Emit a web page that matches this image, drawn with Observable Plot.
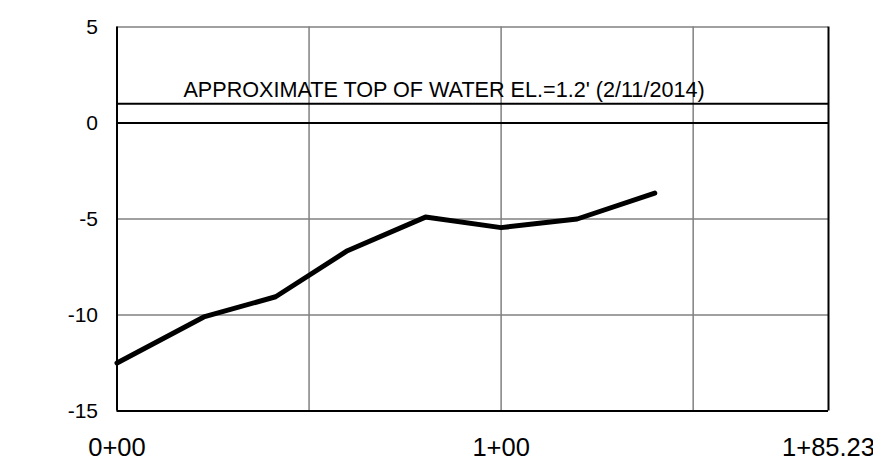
<!DOCTYPE html>
<html><head><meta charset="utf-8">
<script src="https://cdn.jsdelivr.net/npm/d3@7"></script>
<script src="https://cdn.jsdelivr.net/npm/@observablehq/plot@0.6"></script>
<style>body{margin:0;background:#fff;}</style>
</head><body><div id="chart"></div>
<script>
const stations = [0, 22.6, 41.3, 60, 80.3, 100, 119.8, 140];
const elevations = [-12.5, -10.1, -9.05, -6.65, -4.9, -5.45, -5.0, -3.65];
const xTickValues = [0, 100, 185.23];
const xTickLabels = ["0+00", "1+00", "1+85.23"];
const yTickValues = [-15, -10, -5, 0, 5];
const xGrid = [50, 100, 150];
const yGrid = [-10, -5, 5];
const blackRulesY = [-15, 0];
const blackRulesX = [0, 185.23];
const waterLevel = [1.0];
const waterLabel = ["APPROXIMATE TOP OF WATER EL.=1.2' (2/11/2014)"];

const profile = stations.map((s, i) => ({station: s, elev: elevations[i]}));
const xLabelMap = new Map(xTickValues.map((v, i) => [v, xTickLabels[i]]));

const chart = Plot.plot({
  width: 873,
  height: 456,
  marginLeft: 116.5,
  marginRight: 45,
  marginTop: 26.5,
  marginBottom: 45.5,
  style: {fontFamily: "'Liberation Sans', Arial, sans-serif", color: "black", background: "white", overflow: "visible"},
  x: {domain: [0, 185.23]},
  y: {domain: [-15, 5]},
  marks: [
    Plot.ruleX(xGrid, {stroke: "#808080", strokeWidth: 1.5}),
    Plot.ruleY(yGrid, {stroke: "#808080", strokeWidth: 1.5}),
    Plot.ruleY(blackRulesY, {stroke: "black", strokeWidth: 2}),
    Plot.ruleY(waterLevel, {stroke: "black", strokeWidth: 2}),
    Plot.ruleX(blackRulesX, {stroke: "black", strokeWidth: 2}),
    Plot.text(waterLabel, {x: 17.3, y: waterLevel[0], text: d => d, textAnchor: "start", lineAnchor: "middle", dy: -13.5, fontSize: 21.6, fill: "black"}),
    Plot.line(profile, {x: "station", y: "elev", stroke: "black", strokeWidth: 5, strokeLinecap: "round", strokeLinejoin: "round"}),
    Plot.axisX(xTickValues, {tickSize: 0, tickPadding: 27, fontSize: 25.5, tickFormat: d => xLabelMap.get(d), label: null}),
    Plot.axisY(yTickValues, {tickSize: 0, tickPadding: 19, fontSize: 21, tickFormat: d => String(d), label: null})
  ]
});
document.getElementById("chart").appendChild(chart);
</script>
</body></html>
